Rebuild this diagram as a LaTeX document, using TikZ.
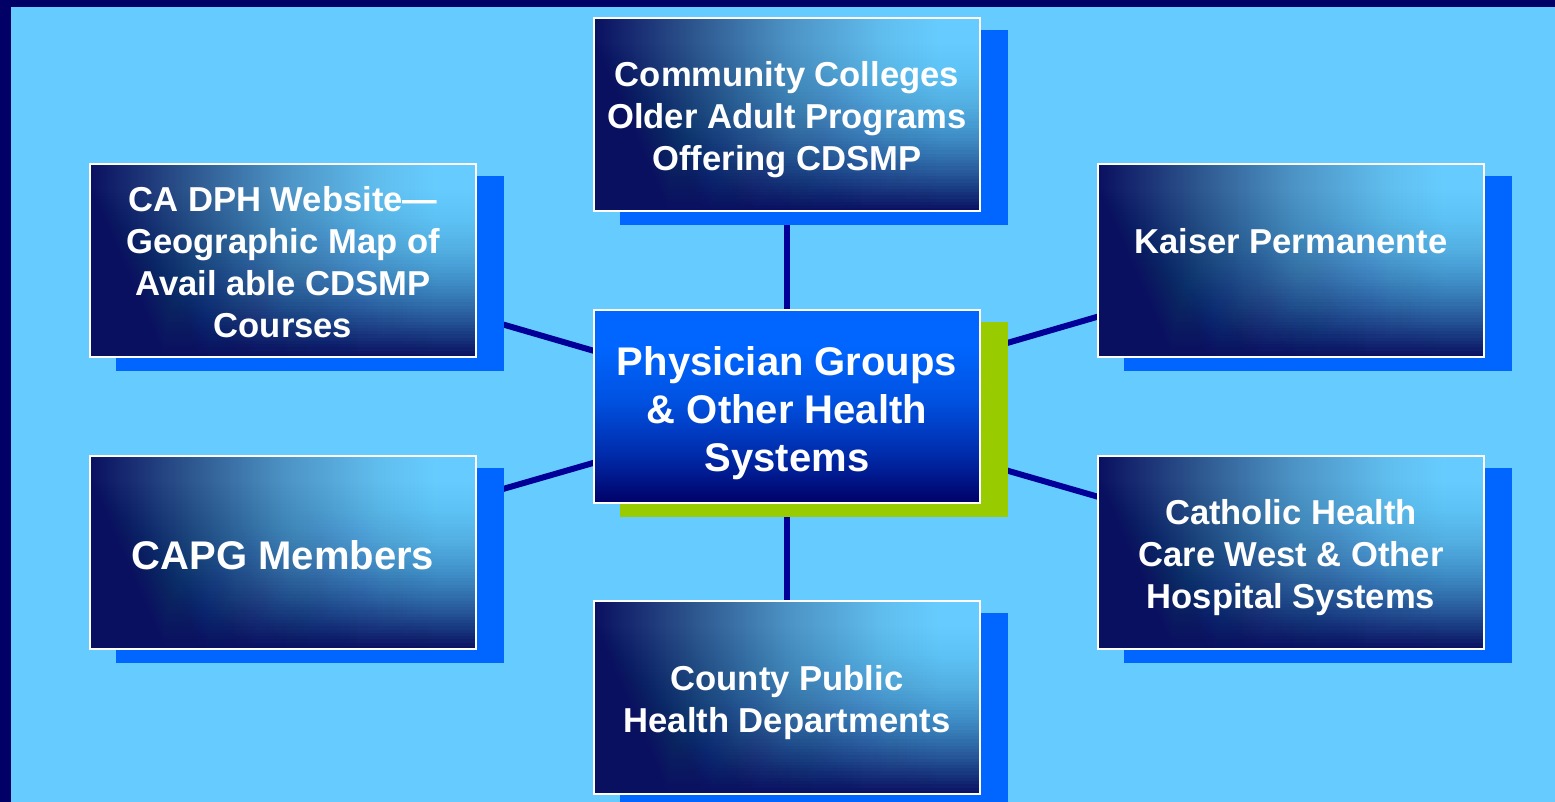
\documentclass[tikz,border=0pt]{standalone}
\usepackage{fontspec}
\setmainfont{Liberation Sans}
\usetikzlibrary{calc}
\definecolor{framecol}{RGB}{0,0,102}
\definecolor{sky}{RGB}{102,204,255}
\definecolor{shblue}{RGB}{0,102,255}
\definecolor{shgreen}{RGB}{153,204,0}
\definecolor{conncol}{RGB}{0,0,153}
\definecolor{h0}{RGB}{10,16,96}
\definecolor{h1}{RGB}{44,84,140}
\definecolor{h2}{RGB}{76,146,196}
\definecolor{h3}{RGB}{96,190,238}
\definecolor{h4}{RGB}{102,204,255}
\definecolor{gE}{RGB}{10,16,96}
\definecolor{cA}{RGB}{0,102,255}
\definecolor{cB}{RGB}{0,82,226}
\definecolor{cC}{RGB}{0,44,172}
\definecolor{cD}{RGB}{0,0,102}
\pgfdeclarehorizontalshading{hglow}{100bp}{color(0bp)=(h0); color(25bp)=(h0); color(37.5bp)=(h1); color(50bp)=(h2); color(62.5bp)=(h3); color(70bp)=(h4); color(100bp)=(h4)}
\pgfdeclareverticalshading{centerfade}{100bp}{color(0bp)=(cD); color(25bp)=(cD); color(38bp)=(cC); color(52bp)=(cB); color(66bp)=(cA); color(100bp)=(cA)}
\pgfdeclarelayer{bglayer}
\pgfdeclarelayer{shadowlayer}
\pgfsetlayers{bglayer,shadowlayer,main}
\newcommand\boxtext[2]{\raisebox{#1}[\height][\depth]{\begin{tabular}{@{}c@{}}#2\end{tabular}}}
\tikzset{
  outerbox/.style={draw=white, line width=1pt, shade, shading=hglow,
    path picture={
      \foreach \k in {0,...,59}{
        \pgfmathsetmacro\Acur{((\k+0.5)/60)^2.6}
        \pgfmathsetmacro\Aprev{(max(\k-0.5,0.001)/60)^2.6}
        \pgfmathsetmacro\bet{1-(1-\Acur)/(1-\Aprev)}
        \pgfmathsetmacro\fr{\k/60}
        \fill[gE, fill opacity=\bet]
          ($(path picture bounding box.north west)!\fr!(path picture bounding box.south west)$)
          rectangle (path picture bounding box.south east);
      }},
    minimum width=193pt, minimum height=96.5pt, inner sep=0pt, text=white,
    font=\bfseries\fontsize{17.3pt}{21pt}\selectfont},
  centerbox/.style={draw=white, line width=1pt, shade, shading=centerfade,
    minimum width=193pt, minimum height=96.5pt, inner sep=0pt, text=white,
    font=\bfseries\fontsize{20pt}{24pt}\selectfont},
  bigtext/.style={font=\bfseries\fontsize{20pt}{24pt}\selectfont},
  conn/.style={draw=conncol, line width=3pt}
}
\newcommand\dropshadow[2]{\fill[#2] ([shift={(27,13)}]#1.south west) rectangle ([shift={(27,13)}]#1.north east);}
\begin{document}
\begin{tikzpicture}[x=0.5pt,y=-0.5pt]
\useasboundingbox (0,0) rectangle (1555,802);
\node[outerbox] (top) at (787,115) {\boxtext{-2.75pt}{Community Colleges\\Older Adult Programs\\Offering CDSMP}};
\node[outerbox] (lt) at (283,260.5) {\boxtext{-2.75pt}{CA DPH Website—\\Geographic Map of\\Avail able CDSMP\\Courses}};
\node[outerbox] (rt) at (1291,260.5) {\boxtext{-2.75pt}{Kaiser Permanente\\\mbox{}}};
\node[outerbox,bigtext] (lb) at (283,552.5) {\boxtext{-3.6pt}{CAPG Members}};
\node[outerbox] (rb) at (1291,552.5) {\boxtext{-2.75pt}{Catholic Health\\Care West \& Other\\Hospital Systems}};
\node[outerbox] (bot) at (787,697.5) {\boxtext{-2.75pt}{County Public\\Health Departments}};
\node[centerbox] (ctr) at (787,407) {\boxtext{-3.35pt}{Physician Groups\\\& Other Health\\Systems}};
\begin{pgfonlayer}{bglayer}
  \fill[framecol] (0,0) rectangle (1555,802);
  \fill[sky] (11,7) rectangle (1555,802);
  \draw[conn] (ctr.center) -- (top.center);
  \draw[conn] (ctr.center) -- (bot.center);
  \draw[conn] (ctr.center) -- (lt.center);
  \draw[conn] (ctr.center) -- (rt.center);
  \draw[conn] (ctr.center) -- (lb.center);
  \draw[conn] (ctr.center) -- (rb.center);
\end{pgfonlayer}
\begin{pgfonlayer}{shadowlayer}
  \dropshadow{top}{shblue}
  \dropshadow{lt}{shblue}
  \dropshadow{rt}{shblue}
  \dropshadow{lb}{shblue}
  \dropshadow{rb}{shblue}
  \dropshadow{bot}{shblue}
  \dropshadow{ctr}{shgreen}
\end{pgfonlayer}
\end{tikzpicture}
\end{document}
